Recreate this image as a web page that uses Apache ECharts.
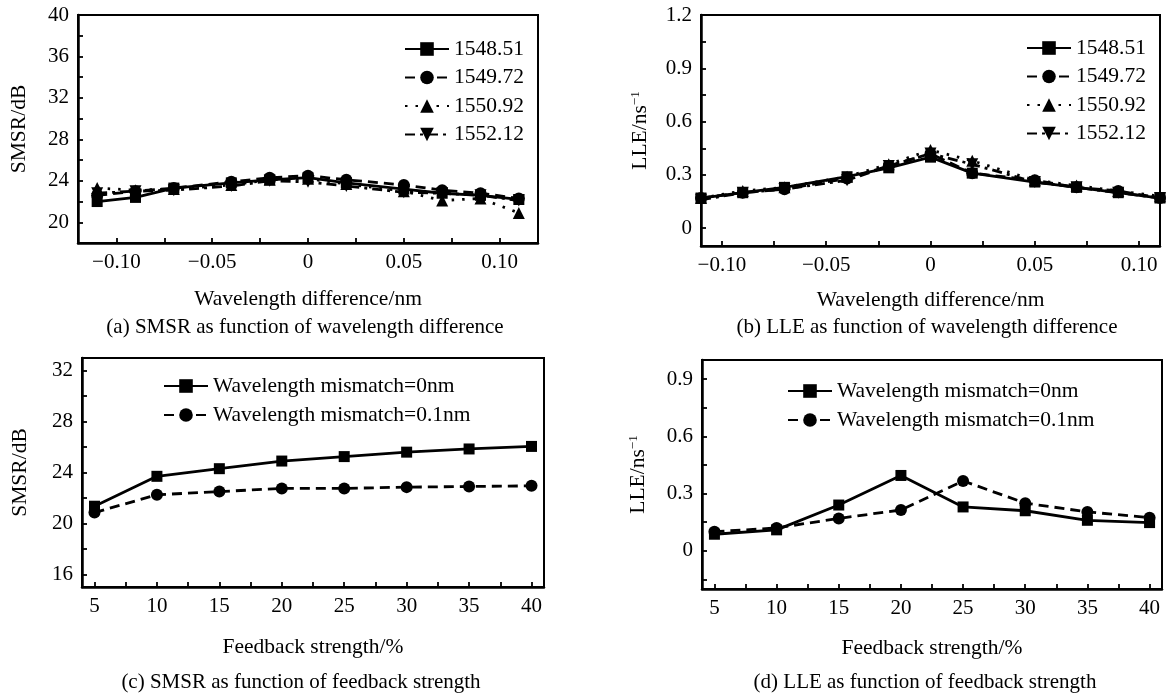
<!DOCTYPE html>
<html>
<head>
<meta charset="utf-8">
<title>SMSR and LLE</title>
<script src="https://cdn.jsdelivr.net/npm/echarts@6/dist/echarts.min.js"></script>
<style>
    html, body { margin: 0; padding: 0; background: #fff; }
    #chart { width: 1169px; height: 695px; }
</style>
</head>
<body>
<div id="chart"></div>
<script>
// panels (a) and (b): wavelength difference
var diffX = [-0.11, -0.09, -0.07, -0.04, -0.02, 0, 0.02, 0.05, 0.07, 0.09, 0.11];
var waveNames = ['1548.51', '1549.72', '1550.92', '1552.12'];
var smsrByDiff = [
    [22.0, 22.4, 23.3, 23.8, 24.1, 24.3, 23.8, 23.2, 22.8, 22.6, 22.2],
    [22.6, 23.0, 23.3, 23.9, 24.3, 24.5, 24.1, 23.6, 23.1, 22.8, 22.3],
    [23.3, 23.1, 23.2, 23.6, 24.1, 24.2, 23.7, 23.0, 22.1, 22.3, 20.9],
    [22.8, 23.0, 23.1, 23.5, 24.0, 23.9, 23.5, 22.9, 22.8, 22.6, 22.1]
];
var lleByDiff = [
    [0.17, 0.20, 0.23, 0.29, 0.34, 0.40, 0.31, 0.26, 0.23, 0.20, 0.17],
    [0.17, 0.20, 0.22, 0.28, 0.35, 0.42, 0.31, 0.27, 0.23, 0.21, 0.17],
    [0.17, 0.21, 0.23, 0.29, 0.36, 0.44, 0.38, 0.27, 0.24, 0.21, 0.18],
    [0.16, 0.20, 0.22, 0.27, 0.35, 0.42, 0.36, 0.26, 0.23, 0.20, 0.17]
];

// panels (c) and (d): feedback strength
var feedbackX = [5, 10, 15, 20, 25, 30, 35, 40];
var mismatchNames = ['Wavelength mismatch=0nm', 'Wavelength mismatch=0.1nm'];
var smsrByFeedback = [
    [21.35, 23.7, 24.3, 24.9, 25.25, 25.6, 25.85, 26.05],
    [20.85, 22.25, 22.5, 22.75, 22.75, 22.85, 22.9, 22.95]
];
var lleByFeedback = [
    [0.087, 0.11, 0.24, 0.395, 0.23, 0.21, 0.16, 0.148],
    [0.10, 0.12, 0.17, 0.214, 0.366, 0.25, 0.204, 0.174]
];

// tick values and labels
var diffTicks = [-0.1, -0.05, 0, 0.05, 0.1];
var diffTickLabels = ['\u22120.10', '\u22120.05', '0', '0.05', '0.10'];
var diffTickMarks = [-0.1, -0.075, -0.05, -0.025, 0, 0.025, 0.05, 0.075, 0.1];
var smsrDiffTicks = [20, 24, 28, 32, 36, 40];
var smsrDiffTickMarks = [20, 22, 24, 26, 28, 30, 32, 34, 36, 38, 40];
var lleDiffTicks = [0, 0.3, 0.6, 0.9, 1.2];
var lleDiffTickLabels = ['0', '0.3', '0.6', '0.9', '1.2'];
var lleDiffTickMarks = [0, 0.15, 0.3, 0.45, 0.6, 0.75, 0.9, 1.05, 1.2];
var feedbackTicks = [5, 10, 15, 20, 25, 30, 35, 40];
var feedbackTickMarks = [5, 7.5, 10, 12.5, 15, 17.5, 20, 22.5, 25, 27.5, 30, 32.5, 35, 37.5, 40];
var smsrFbTicks = [16, 20, 24, 28, 32];
var smsrFbTickMarks = [16, 18, 20, 22, 24, 26, 28, 30, 32];
var lleFbTicks = [0, 0.3, 0.6, 0.9];
var lleFbTickLabels = ['0', '0.3', '0.6', '0.9'];
var lleFbTickMarks = [-0.15, 0, 0.15, 0.3, 0.45, 0.6, 0.75, 0.9];

var FONT = 'Liberation Serif';
var lineTypes = ['solid', [10, 6], [2.5, 8], [10, 5, 3, 5]];
var symbols = ['rect', 'circle', 'triangle', 'triangle'];
var symbolRotates = [0, 0, 0, 180];

function labelFormatter(ticks, labels) {
    return function (v) {
        for (var i = 0; i < ticks.length; i++) {
            if (Math.abs(ticks[i] - v) < 1e-9) return labels ? labels[i] : String(ticks[i]);
        }
        return '';
    };
}

function makeAxis(gridIndex, min, max, ticks, labels, marks, extra) {
    var axis = {
        type: 'value',
        gridIndex: gridIndex,
        min: min,
        max: max,
        axisLine: { show: true, onZero: false, lineStyle: { color: '#000', width: 2.5 } },
        axisTick: { show: true, inside: true, length: 5, customValues: marks, lineStyle: { color: '#000', width: 1.8 } },
        axisLabel: {
            customValues: ticks,
            formatter: labelFormatter(ticks, labels),
            color: '#000', fontFamily: FONT, fontSize: 21, margin: 9
        },
        splitLine: { show: false },
        nameLocation: 'middle',
        nameTextStyle: {
            color: '#000', fontFamily: FONT, fontSize: 21.5,
            rich: { sup: { fontSize: 13, fontFamily: FONT, color: '#000', verticalAlign: 'top', padding: [0, 0, 10, 0] } }
        }
    };
    for (var k in extra) axis[k] = extra[k];
    return axis;
}

function makeSeries(names, xs, ys, xIdx, yIdx) {
    return names.map(function (name, i) {
        return {
            name: name,
            type: 'line',
            xAxisIndex: xIdx,
            yAxisIndex: yIdx,
            data: xs.map(function (x, j) { return [x, ys[i][j]]; }),
            symbol: symbols[i],
            symbolRotate: symbolRotates[i],
            symbolSize: i === 0 ? 11 : 12,
            lineStyle: { color: '#000', width: 2.8, type: lineTypes[i] },
            itemStyle: { color: '#000' },
            z: 10 - i
        };
    });
}

function makeLegend(names, left, top, gap) {
    return {
        data: names,
        orient: 'vertical',
        left: left,
        top: top,
        itemWidth: 44,
        itemHeight: 17,
        itemGap: gap,
        selectedMode: false,
        textStyle: { color: '#000', fontFamily: FONT, fontSize: 21.5 }
    };
}

function caption(text, x, y) {
    return {
        type: 'text',
        x: x, y: y,
        style: {
            text: text, fill: '#000', fontFamily: FONT, fontSize: 21,
            font: '21px "Liberation Serif"',
            align: 'center', verticalAlign: 'middle',
            textAlign: 'center', textVerticalAlign: 'middle'
        }
    };
}

var chart = echarts.init(document.getElementById('chart'));

var option = {
    animation: false,
    backgroundColor: '#fff',
    grid: [
        { left: 78, top: 15, width: 460, height: 228, show: true, borderColor: '#000', borderWidth: 2 },
        { left: 701, top: 15, width: 459, height: 231, show: true, borderColor: '#000', borderWidth: 2 },
        { left: 82, top: 358, width: 462, height: 229, show: true, borderColor: '#000', borderWidth: 2 },
        { left: 702, top: 360, width: 460, height: 229, show: true, borderColor: '#000', borderWidth: 2 }
    ],
    xAxis: [
        makeAxis(0, -0.12, 0.12, diffTicks, diffTickLabels, diffTickMarks, { name: 'Wavelength difference/nm', nameGap: 45 }),
        makeAxis(1, -0.11, 0.11, diffTicks, diffTickLabels, diffTickMarks, { name: 'Wavelength difference/nm', nameGap: 43 }),
        makeAxis(2, 4, 41, feedbackTicks, null, feedbackTickMarks, { name: 'Feedback strength/%', nameGap: 49 }),
        makeAxis(3, 4, 41, feedbackTicks, null, feedbackTickMarks, { name: 'Feedback strength/%', nameGap: 48 })
    ],
    yAxis: [
        makeAxis(0, 18, 40, smsrDiffTicks, null, smsrDiffTickMarks, { name: 'SMSR/dB', nameGap: 48 }),
        makeAxis(1, -0.1, 1.2, lleDiffTicks, lleDiffTickLabels, lleDiffTickMarks, { name: 'LLE/ns{sup|\u22121}', nameGap: 49 }),
        makeAxis(2, 15, 33, smsrFbTicks, null, smsrFbTickMarks, { name: 'SMSR/dB', nameGap: 51 }),
        makeAxis(3, -0.2, 1.0, lleFbTicks, lleFbTickLabels, lleFbTickMarks, { name: 'LLE/ns{sup|\u22121}', nameGap: 52 })
    ],
    legend: [
        makeLegend(waveNames, 399, 33, 6.5),
        makeLegend(waveNames, 1021, 32, 6.5),
        makeLegend(mismatchNames, 158, 370, 7),
        makeLegend(mismatchNames, 782, 375, 7)
    ],
    graphic: [
        caption('(a) SMSR as function of wavelength difference', 305, 327),
        caption('(b) LLE as function of wavelength difference', 927, 327),
        caption('(c) SMSR as function of feedback strength', 301, 682),
        caption('(d) LLE as function of feedback strength', 925, 682)
    ],
    series: []
        .concat(makeSeries(waveNames, diffX, smsrByDiff, 0, 0))
        .concat(makeSeries(waveNames, diffX, lleByDiff, 1, 1))
        .concat(makeSeries(mismatchNames, feedbackX, smsrByFeedback, 2, 2))
        .concat(makeSeries(mismatchNames, feedbackX, lleByFeedback, 3, 3))
};

chart.setOption(option);
</script>
</body>
</html>
